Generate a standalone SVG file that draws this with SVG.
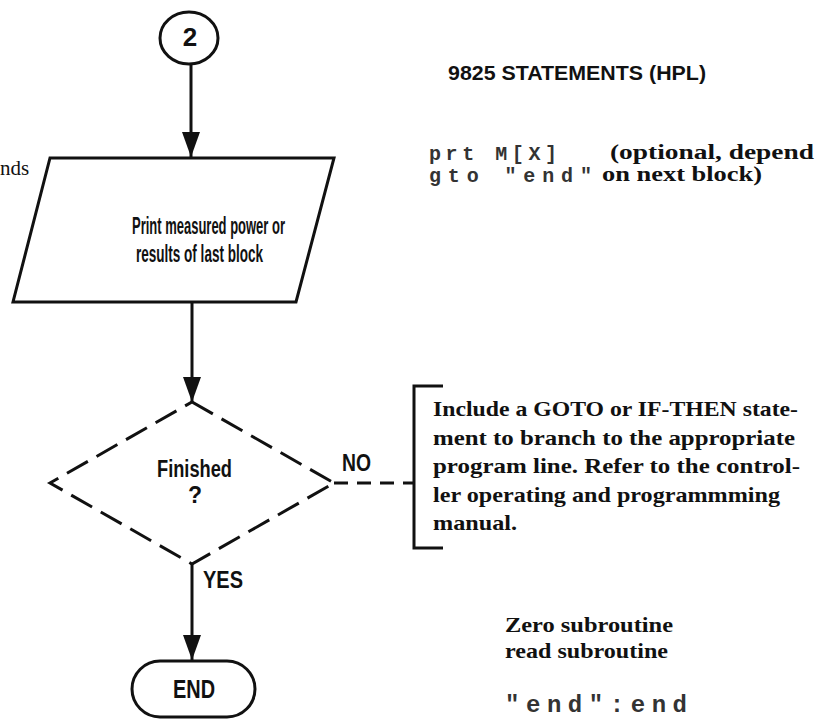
<svg xmlns="http://www.w3.org/2000/svg" width="815" height="719" viewBox="0 0 815 719">
<defs>
<marker id="arr" viewBox="0 0 25 18" refX="25" refY="9" markerWidth="25" markerHeight="18" markerUnits="userSpaceOnUse" orient="auto">
<path d="M0,0 L25,9 L0,18 z" fill="#111"/>
</marker>
</defs>
<style>
.shape{fill:#fff;stroke:#111;stroke-width:3;stroke-linejoin:miter}
.dash{fill:#fff;stroke:#111;stroke-width:3;stroke-dasharray:24 10}
.line{fill:none;stroke:#111;stroke-width:3}
.sans{font-family:"Liberation Sans Narrow","Liberation Sans",Arial,sans-serif;fill:#111;font-size:23px;font-weight:bold}
.serif{font-family:"Liberation Serif","Times New Roman",serif;font-weight:bold;fill:#111;font-size:21px}
.mono{font-family:"Liberation Mono","DejaVu Sans Mono",monospace;fill:#333;font-size:20px;font-weight:bold}
</style>
<rect width="815" height="719" fill="#fff"/>

<g id="connectors">
<line class="line" x1="191" y1="64" x2="191" y2="157" marker-end="url(#arr)"/>
<line class="line" x1="192" y1="302" x2="192" y2="402" marker-end="url(#arr)"/>
<line class="line" x1="192" y1="564" x2="192" y2="660" marker-end="url(#arr)"/>
<line class="line" x1="334" y1="483" x2="414" y2="483" style="stroke-dasharray:14 9"/>
<text class="sans" x="342" y="471" textLength="29" lengthAdjust="spacingAndGlyphs">NO</text>
<text class="sans" x="203" y="588" textLength="40" lengthAdjust="spacingAndGlyphs">YES</text>
</g>

<g id="node-connector-2">
<ellipse class="shape" cx="189" cy="38" rx="29" ry="26"/>
<text class="sans" x="190" y="46" text-anchor="middle" style="font-size:26px">2</text>
</g>

<g id="node-print">
<polygon class="shape" points="50,158 334,158 296,302 13,302"/>
<text class="sans" x="132" y="234" textLength="153" lengthAdjust="spacingAndGlyphs">Print measured power or</text>
<text class="sans" x="136" y="262" textLength="127" lengthAdjust="spacingAndGlyphs">results of last block</text>
</g>

<g id="node-finished">
<polygon class="dash" points="192,402 334,483 192,564 50,483"/>
<text class="sans" x="157" y="477" textLength="75" lengthAdjust="spacingAndGlyphs">Finished</text>
<text class="sans" x="195" y="503" text-anchor="middle">?</text>
</g>

<g id="node-end">
<rect class="shape" x="132" y="661" width="123" height="56" rx="28" ry="28"/>
<text class="sans" x="173" y="698" textLength="42" lengthAdjust="spacingAndGlyphs" style="font-size:25px">END</text>
</g>

<g id="node-note">
<path class="line" d="M443,386 H414 V548 H443"/>
<text class="serif" x="433" y="416" textLength="365" lengthAdjust="spacingAndGlyphs">Include a GOTO or IF-THEN state-</text>
<text class="serif" x="433" y="445" textLength="362" lengthAdjust="spacingAndGlyphs">ment to branch to the appropriate</text>
<text class="serif" x="433" y="473" textLength="367" lengthAdjust="spacingAndGlyphs">program line. Refer to the control-</text>
<text class="serif" x="433" y="502" textLength="347" lengthAdjust="spacingAndGlyphs">ler operating and programmming</text>
<text class="serif" x="433" y="530" textLength="84" lengthAdjust="spacingAndGlyphs">manual.</text>
</g>

<g id="statements">
<text class="sans" x="448" y="80" textLength="258" lengthAdjust="spacingAndGlyphs" style="font-size:20px">9825 STATEMENTS (HPL)</text>
<text class="mono" x="429" y="160" textLength="128" lengthAdjust="spacing">prt M[X]</text>
<text class="mono" x="429" y="182" textLength="163" lengthAdjust="spacing">gto "end"</text>
<text class="serif" x="610" y="159" textLength="204" lengthAdjust="spacingAndGlyphs" style="font-size:20px">(optional, depend</text>
<text class="serif" x="602" y="181" textLength="160" lengthAdjust="spacingAndGlyphs" style="font-size:20px">on next block)</text>
<text class="serif" x="0" y="175" style="font-weight:normal">nds</text>
<text class="serif" x="505" y="632" textLength="168" lengthAdjust="spacingAndGlyphs">Zero subroutine</text>
<text class="serif" x="505" y="658" textLength="163" lengthAdjust="spacingAndGlyphs">read subroutine</text>
<text class="mono" x="505" y="712" textLength="182" lengthAdjust="spacing" style="font-size:24px">"end":end</text>
</g>
</svg>
